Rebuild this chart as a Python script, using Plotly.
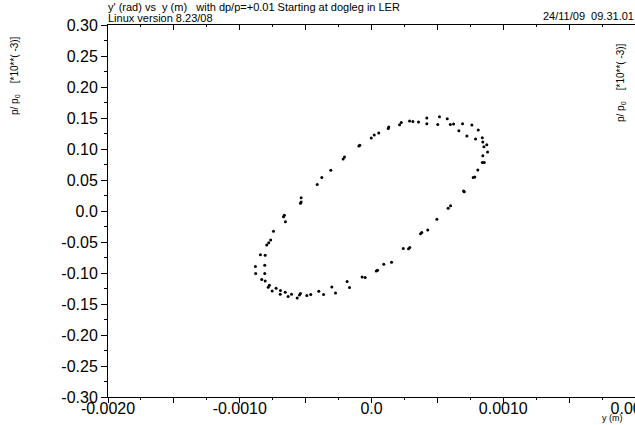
import numpy as np
import plotly.graph_objects as go

# Phase-space points: y (m) and y' (in units of 1e-3 rad)
y_pos = [
    -0.000096, -0.000089, -0.000205, -0.000215, -0.000309, -0.000377, -0.000412,
    -0.000534, -0.000534, -0.000539,
    -0.000002, 0.000021, 0.000055, 0.000127, 0.000131, 0.000213, 0.000226,
    0.000289, 0.000314, 0.000357, 0.000420, 0.000420, 0.000516, 0.000503,
    0.000575, 0.000598, 0.000623, 0.000691, 0.000663, 0.000762, 0.000724,
    0.000810, 0.000790, 0.000841, 0.000845, 0.000875, 0.000853, 0.000881,
    0.000845, 0.000841, 0.000856, 0.000807, 0.000784, 0.000772, 0.000699,
    0.000704,
    0.000600, 0.000582, 0.000496, 0.000427, 0.000382, 0.000372, 0.000291,
    0.000281, 0.000241, 0.000152, 0.000093, 0.000046, 0.000036,
    -0.000661, -0.000668, -0.000653, -0.000744, -0.000765, -0.000780, -0.000795,
    -0.000843, -0.000807, -0.000881, -0.000810, -0.000879, -0.000810, -0.000833,
    -0.000807, -0.000775, -0.000784, -0.000754, -0.000724, -0.000691, -0.000693,
    -0.000655, -0.000633, -0.000607, -0.000564, -0.000547, -0.000539, -0.000491,
    -0.000461, -0.000400, -0.000364, -0.000301, -0.000273, -0.000185, -0.000167,
    -0.000071, -0.000048,
]
y_prime = [
    0.105, 0.106, 0.0869, 0.0837, 0.0659, 0.0539, 0.0426,
    0.0215, 0.0146, 0.0125,
    0.1176, 0.1225, 0.1257, 0.1332, 0.1354, 0.1392, 0.1429,
    0.1451, 0.1445, 0.1435, 0.1500, 0.1408, 0.1521, 0.1396,
    0.1489, 0.1396, 0.1403, 0.1408, 0.1294, 0.1387, 0.1209,
    0.1306, 0.1160, 0.1181, 0.1112, 0.1068, 0.1036, 0.0950,
    0.0890, 0.0782, 0.0782, 0.0663, 0.0550, 0.0539, 0.0324,
    0.0312,
    0.0086, 0.0044, -0.0134, -0.0307, -0.0345, -0.0367, -0.0587,
    -0.0610, -0.0604, -0.0825, -0.0858, -0.0955, -0.0966,
    -0.0070, -0.0092, -0.0173, -0.0328, -0.0469, -0.0513, -0.0550,
    -0.0707, -0.0712, -0.0895, -0.0874, -0.1008, -0.1008, -0.1105,
    -0.1128, -0.1197, -0.1230, -0.1290, -0.1246, -0.1283, -0.1343,
    -0.1311, -0.1380, -0.1343, -0.1403, -0.1354, -0.1332, -0.1364,
    -0.1348, -0.1294, -0.1348, -0.1225, -0.1322, -0.1138, -0.1235,
    -0.1063, -0.1073,
]

x_ticks = [-0.0020, -0.0015, -0.0010, -0.0005, 0.0, 0.0005, 0.0010, 0.0015, 0.0020]
x_labels = ["-0.0020", "", "-0.0010", "", "0.0", "", "0.0010", "", "0.0020"]
y_ticks = [0.30, 0.25, 0.20, 0.15, 0.10, 0.05, 0.0, -0.05, -0.10, -0.15, -0.20, -0.25, -0.30]
y_labels = ["0.30", "0.25", "0.20", "0.15", "0.10", "0.05", "0.0", "-0.05",
            "-0.10", "-0.15", "-0.20", "-0.25", "-0.30"]

title_text = "y' (rad) vs\u00a0\u00a0y (m)\u00a0\u00a0\u00a0with dp/p=+0.01 Starting at dogleg in LER"
version_text = "Linux version 8.23/08"
date_text = "24/11/09\u00a0\u00a009.31.01"
yunit_text = "p/\u00a0p<sub>0</sub>\u00a0\u00a0\u00a0\u00a0[*10**(\u00a0-3)]"
xunit_text = "y (m)"

FONT = "Liberation Sans, Arial, sans-serif"
# The page is wider than the viewport; the right part of the frame lies off-view.
W, H = 700, 425
L, R, T, B = 108, 65, 25, 28
pw, ph = W - L - R, H - T - B


def px(xp):
    return (xp - L) / pw


def py(yp):
    return (H - B - yp) / ph


fig = go.Figure()
fig.add_trace(go.Scatter(
    x=y_pos, y=y_prime, mode="markers",
    marker=dict(color="black", size=3, symbol="circle", line=dict(width=0)),
    showlegend=False, hoverinfo="skip",
))
# empty trace so the top axis gets drawn
fig.add_trace(go.Scatter(x=[], y=[], xaxis="x2", yaxis="y", showlegend=False))

common_x = dict(
    range=[-0.002, 0.002], tickmode="array", tickvals=x_ticks,
    showgrid=False, zeroline=False, showline=True, linecolor="black", linewidth=1,
    tickcolor="black", tickwidth=1,
)
fig.update_layout(
    width=W, height=H,
    margin=dict(l=L, r=R, t=T, b=B, autoexpand=False),
    paper_bgcolor="white", plot_bgcolor="white",
    font=dict(family=FONT, color="black"),
    xaxis=dict(
        **common_x, ticktext=x_labels, ticks="outside", ticklen=5,
        ticklabelstandoff=-8,
        tickfont=dict(size=16, family=FONT, color="black"),
        minor=dict(dtick=0.00025, tick0=0, ticks="outside", ticklen=2,
                   tickcolor="black", tickwidth=1),
        automargin=False,
    ),
    xaxis2=dict(
        **common_x, overlaying="x", side="top", ticks="inside", ticklen=5,
        showticklabels=False,
        minor=dict(dtick=0.00025, tick0=0, ticks="inside", ticklen=2,
                   tickcolor="black", tickwidth=1),
    ),
    yaxis=dict(
        range=[-0.30, 0.30], tickmode="array", tickvals=y_ticks, ticktext=y_labels,
        ticks="outside", ticklen=6, tickcolor="black", tickwidth=1,
        tickfont=dict(size=16, family=FONT, color="black"),
        minor=dict(dtick=0.025, tick0=0, ticks="outside", ticklen=3,
                   tickcolor="black", tickwidth=1),
        showgrid=False, zeroline=False, showline=True, linecolor="black", linewidth=1,
        automargin=False,
    ),
)

annots = [
    dict(text=title_text, x=px(106), y=py(7), xanchor="left", yanchor="middle", size=11),
    dict(text=version_text, x=px(106), y=py(18), xanchor="left", yanchor="middle", size=11),
    dict(text=date_text, x=px(636), y=py(16), xanchor="right", yanchor="middle", size=11),
    dict(text=xunit_text, x=px(612), y=py(418), xanchor="center", yanchor="middle", size=9),
]
for a in annots:
    fig.add_annotation(text=a["text"], x=a["x"], y=a["y"], xref="paper", yref="paper",
                       xanchor=a["xanchor"], yanchor=a["yanchor"], showarrow=False,
                       font=dict(size=a["size"], family=FONT, color="black"))
for xc, yc in [(15, 76), (621, 83)]:
    fig.add_annotation(text=yunit_text, x=px(xc), y=py(yc), xref="paper", yref="paper",
                       xanchor="center", yanchor="middle", textangle=-90, showarrow=False,
                       font=dict(size=10, family=FONT, color="black"))

fig.write_html(
    "out.html",
    post_script="document.documentElement.style.overflow='hidden';"
                "document.body.style.overflow='hidden';",
)
